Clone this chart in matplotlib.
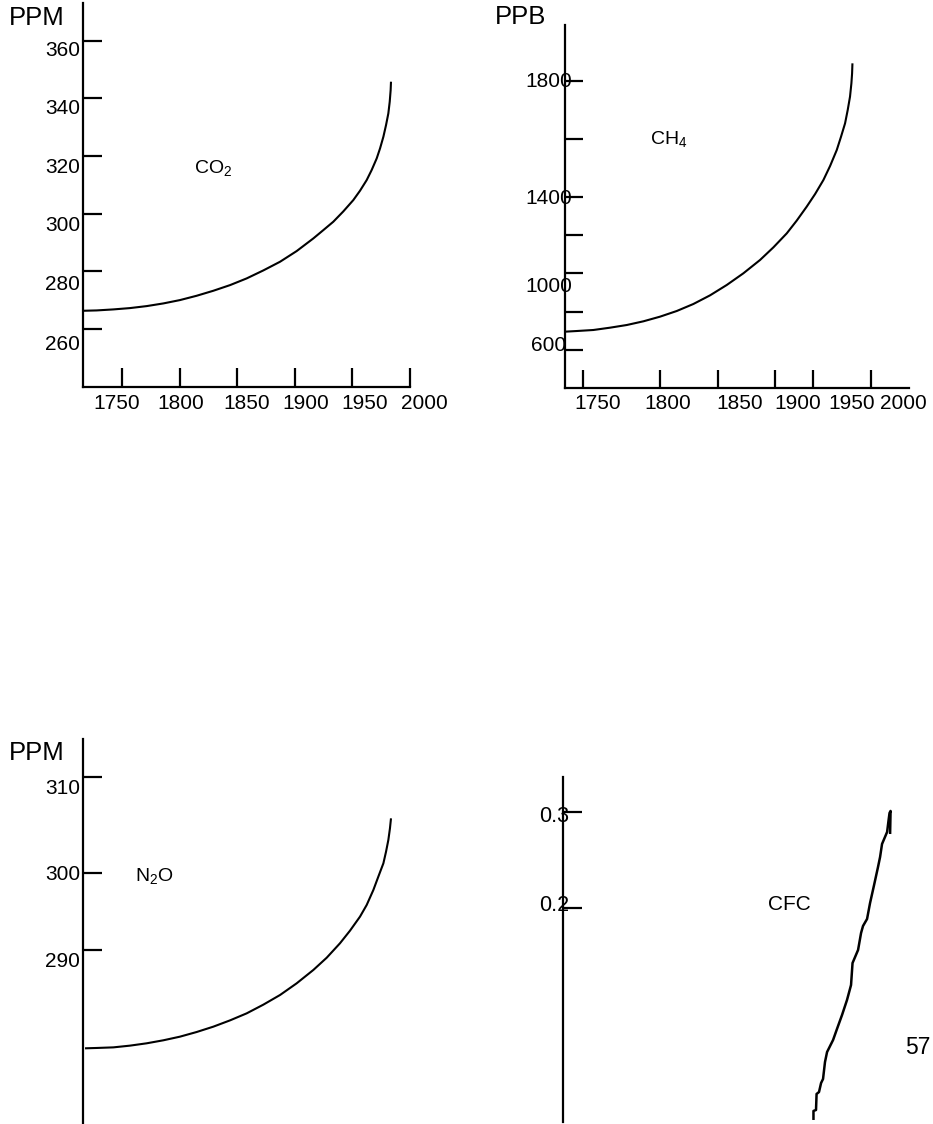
import matplotlib
matplotlib.use('Agg')
import matplotlib.pyplot as plt

plt.rcParams['font.family'] = ['Liberation Sans', 'DejaVu Sans']
plt.rcParams['mathtext.fontset'] = 'custom'
plt.rcParams['mathtext.rm'] = 'Liberation Sans'
plt.rcParams['mathtext.it'] = 'Liberation Sans:italic'

W, H, DPI = 933, 1124, 100
LW_AX = 1.6
LW_CURVE = 1.5

# ------------------------------------------------------------
# Data
# ------------------------------------------------------------
# CO2 (ppm)
co2_years = [1716.4, 1728.0, 1742.5, 1756.9, 1771.4, 1785.9, 1800.3, 1814.8,
             1829.3, 1843.8, 1858.2, 1872.7, 1887.2, 1901.6, 1916.1, 1924.8,
             1933.4, 1942.1, 1950.8, 1956.6, 1962.4, 1966.7, 1971.1, 1974.0,
             1976.9, 1979.2, 1981.2, 1982.4, 1983.2, 1983.5]
co2_ppm = [266.26, 266.38, 266.73, 267.19, 267.88, 268.81, 269.97, 271.47,
           273.21, 275.17, 277.49, 280.27, 283.28, 286.98, 291.38, 294.27,
           297.16, 300.75, 304.69, 307.93, 311.63, 315.10, 319.16, 322.63,
           326.68, 330.73, 334.78, 338.83, 342.88, 345.78]
co2_xticks = [1750, 1800, 1850, 1900, 1950, 2000]
co2_xlabel_pos = [1745.7, 1801.2, 1858.5, 1909.7, 1960.9, 2012.2]
co2_xlabels = ['1750', '1800', '1850', '1900', '1950', '2000']
co2_yticks = [360, 340, 320, 300, 280, 260]
co2_ylabel_pos = [357.2, 337.0, 316.8, 296.4, 276.1, 255.2]
co2_ylabels = ['360', '340', '320', '300', '280', '260']

# CH4 (ppb)
ch4_years = [1734.6, 1744.8, 1759.2, 1773.7, 1788.2, 1802.6, 1817.1, 1831.6,
             1846.0, 1860.5, 1875.0, 1889.4, 1903.9, 1915.5, 1927.1, 1935.7,
             1944.4, 1951.7, 1958.9, 1964.7, 1970.5, 1974.2, 1977.7, 1980.0,
             1982.0, 1983.2, 1983.8, 1984.1]
ch4_ppb = [935.6, 937.9, 941.4, 949.4, 958.6, 971.3, 987.4, 1006.9,
           1031.0, 1060.9, 1096.6, 1136.8, 1182.8, 1226.4, 1274.7, 1318.4,
           1366.7, 1410.3, 1458.6, 1506.9, 1562.1, 1608.0, 1654.0, 1700.0,
           1746.0, 1792.0, 1826.4, 1860.9]
ch4_xticks = [1750, 1817.1, 1867.2, 1917.0, 1950.2, 2000.3]
ch4_xlabel_pos = [1762.8, 1823.8, 1886.1, 1936.6, 1983.5, 2028.0]
ch4_xlabels = ['1750', '1800', '1850', '1900', '1950', '2000']
ch4_yticks = [1800, 1600, 1401, 1269, 1137, 1005, 872]
ch4_ylabel_pos = [1806, 1402, 1097, 896]
ch4_ylabels = ['1800', '1400', '1000', '600']

# N2O (ppm)
n2o_years = [1717.9, 1728.0, 1742.5, 1756.9, 1771.4, 1785.9, 1800.3, 1814.8,
             1829.3, 1843.8, 1858.2, 1872.7, 1887.2, 1901.6, 1916.1, 1927.7,
             1939.2, 1947.9, 1956.6, 1962.4, 1968.2, 1972.5, 1976.9, 1979.2,
             1981.2, 1982.6, 1983.5]
n2o_ppm = [279.65, 279.69, 279.76, 279.96, 280.23, 280.58, 281.00, 281.54,
           282.16, 282.89, 283.70, 284.71, 285.83, 287.18, 288.73, 290.15,
           291.82, 293.28, 294.91, 296.26, 298.00, 299.54, 301.09, 302.44,
           303.79, 305.14, 306.30]
n2o_yticks = [311.1, 300, 291.1]
n2o_ylabel_pos = [310, 300, 290]
n2o_ylabels = ['310', '300', '290']

# CFC
cfc_years = [1950.3, 1950.3, 1952.5, 1953.0, 1955.1, 1956.9, 1958.6, 1960.3,
             1962.1, 1967.3, 1970.7, 1975.1, 1979.4, 1982.9, 1984.2, 1989.0,
             1991.6, 1993.3, 1996.8, 1999.4, 2002.9, 2006.3, 2008.1, 2009.8,
             2014.2, 2015.5, 2016.3, 2017.2, 2016.8]
cfc_vals = [-0.0205, -0.0111, -0.0101, 0.0066, 0.0086, 0.0180, 0.0222, 0.0399,
            0.0503, 0.0628, 0.0743, 0.0889, 0.1045, 0.1201, 0.1430, 0.1566,
            0.1743, 0.1816, 0.1889, 0.2055, 0.2243, 0.2430, 0.2534, 0.2670,
            0.2795, 0.2920, 0.2993, 0.3014, 0.2774]
cfc_yticks = [0.3, 0.2]
cfc_ylabel_pos = [0.298, 0.2056]
cfc_ylabels = ['0.3', '0.2']


def cap(fs):
    # half-height of capitals/digits in pixels, used to centre text on a point
    return fs * DPI / 72 * 0.72 / 2


def panel(box, xlim, ylim, tick_len, bottom=True):
    x0, y0, x1, y1 = box
    ax = fig.add_axes([x0 / W, 1 - y1 / H, (x1 - x0) / W, (y1 - y0) / H])
    ax.set_xlim(*xlim)
    ax.set_ylim(*ylim)
    ax.patch.set_visible(False)
    for s in ['top', 'right']:
        ax.spines[s].set_visible(False)
    ax.spines['bottom'].set_visible(bottom)
    for s in ax.spines.values():
        s.set_linewidth(LW_AX)
    ax.tick_params(direction='in', length=tick_len, width=LW_AX,
                   labelleft=False, labelbottom=False)
    if not bottom:
        ax.set_xticks([])
    return ax


def curve(ax, x, y, lw=LW_CURVE):
    ax.plot(x, y, color='black', lw=lw, clip_on=False,
            solid_joinstyle='round', solid_capstyle='butt')


def ylabels(ax, pos, labels, dx, ha, fs=15):
    for p, s in zip(pos, labels):
        ax.annotate(s, xy=(0, p), xycoords=('axes fraction', 'data'),
                    xytext=(dx, -cap(fs)), textcoords='offset pixels',
                    ha=ha, va='baseline', fontsize=fs, annotation_clip=False)


def xlabels(ax, pos, labels, dy, fs=15):
    for p, s in zip(pos, labels):
        ax.annotate(s, xy=(p, 0), xycoords=('data', 'axes fraction'),
                    xytext=(0, dy), textcoords='offset pixels',
                    ha='center', va='baseline', fontsize=fs, annotation_clip=False)


def ftext(x, yc, s, fs, ha='left'):
    fig.text(x / W, 1 - (yc + cap(fs)) / H, s, fontsize=fs, ha=ha, va='baseline')


fig = plt.figure(figsize=(W / DPI, H / DPI), dpi=DPI)

# ---- CO2 ----
ax = panel((83.3, 3.3, 410, 386.7), (1716.4, 2000), (239.9, 373.0), 14)
curve(ax, co2_years, co2_ppm)
ax.set_xticks(co2_xticks)
ax.set_yticks(co2_yticks)
ylabels(ax, co2_ylabel_pos, co2_ylabels, -3, 'right')
xlabels(ax, co2_xlabel_pos, co2_xlabels, -22.6)

# ---- CH4 ----
ax = panel((565, 25, 909, 388), (1734.6, 2033.2), (741.4, 1993.1), 12.7)
curve(ax, ch4_years, ch4_ppb)
ax.set_xticks(ch4_xticks)
ax.set_yticks(ch4_yticks)
ylabels(ax, ch4_ylabel_pos, ch4_ylabels, -16, 'center')
xlabels(ax, ch4_xlabel_pos, ch4_xlabels, -21.3)

# ---- N2O ----
ax = panel((83.3, 739.3, 410, 1122.7), (1716.4, 2000), (271.03, 315.46), 14, bottom=False)
curve(ax, n2o_years, n2o_ppm)
ax.set_yticks(n2o_yticks)
ylabels(ax, n2o_ylabel_pos, n2o_ylabels, -3, 'right')

# ---- CFC ----
ax = panel((563.3, 776.7, 909, 1121.7), (1733.2, 2033.2), (-0.0223, 0.3371), 14, bottom=False)
curve(ax, cfc_years, cfc_vals, lw=1.8)
ax.set_yticks(cfc_yticks)
ylabels(ax, cfc_ylabel_pos, cfc_ylabels, -9, 'center', fs=15.5)

# ---- free text ----
ftext(9.3, 15.7, 'PPM', 18.5)
ftext(495, 15, 'PPB', 18.5)
ftext(9.3, 751, 'PPM', 18.5)
ftext(194, 166, r'CO$_2$', 14)
ftext(650, 137, r'CH$_4$', 14)
ftext(135, 873.7, r'N$_2$O', 14)
ftext(768, 903, 'CFC', 15)
ftext(905, 1045.5, '57', 16.5)

fig.savefig('out.png', dpi=DPI)
